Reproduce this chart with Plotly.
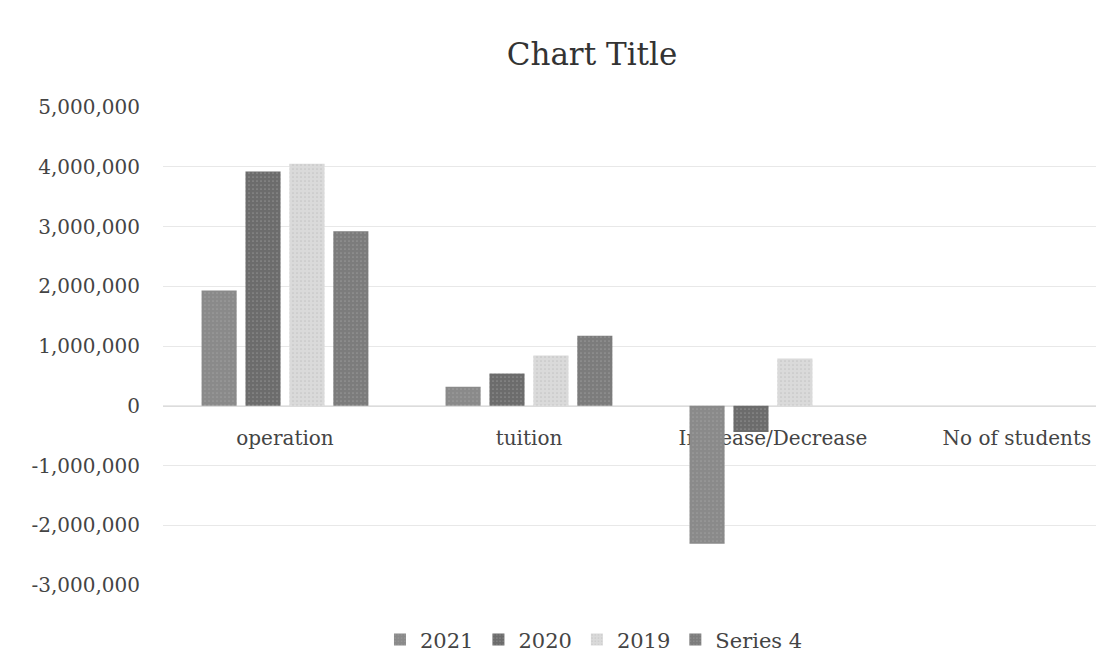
import plotly.graph_objects as go

categories = ["operation", "tuition", "Increase/Decrease", "No of students"]
series_names = ["2021", "2020", "2019", "Series 4"]
values_2021 = [1930000, 320000, -2310000, None]
values_2020 = [3920000, 540000, -440000, None]
values_2019 = [4050000, 840000, 790000, None]
values_s4 = [2920000, 1170000, None, None]
series_values = [values_2021, values_2020, values_2019, values_s4]
series_colors = ["#8a8a8a", "#6c6c6c", "#dadada", "#7c7c7c"]

tick_values = [5000000, 4000000, 3000000, 2000000, 1000000, 0,
               -1000000, -2000000, -3000000]
tick_labels = ["5,000,000", "4,000,000", "3,000,000", "2,000,000", "1,000,000", "0",
               "-1,000,000", "-2,000,000", "-3,000,000"]

FONT = "DejaVu Serif"
fig = go.Figure()
for name, vals, col in zip(series_names, series_values, series_colors):
    fig.add_trace(go.Bar(
        name=name, x=categories, y=vals,
        marker=dict(color=col, line=dict(width=0),
                    pattern=dict(shape=".", fgcolor="#b0b0b0", size=4, solidity=0.15)),
    ))

ymin, ymax = -3000000, 5000000
fig.update_layout(
    width=1104, height=653,
    paper_bgcolor="white", plot_bgcolor="white",
    margin=dict(l=155, r=8, t=99, b=76, autoexpand=False),
    barmode="group", bargap=0.28, bargroupgap=0.2,
    title=dict(text="Chart Title", x=0.529, xanchor="center", y=0.93, yanchor="middle",
               font=dict(family=FONT, size=31, color="#333333")),
    font=dict(family=FONT, size=20, color="#444444"),
    showlegend=True,
    legend=dict(orientation="h", x=0.458, xanchor="center", y=-0.115, yanchor="middle",
                font=dict(family=FONT, size=21, color="#444444"),
                itemwidth=30, traceorder="normal"),
    xaxis=dict(range=[-0.5, 3.357], anchor="free",
               position=(0 - ymin) / (ymax - ymin),
               showline=True, linecolor="#dcdcdc", linewidth=1,
               showgrid=False, ticks="", ticklabelstandoff=14,
               layer="below traces",
               tickfont=dict(family=FONT, size=20, color="#444444")),
    yaxis=dict(range=[ymin, ymax], tickvals=tick_values, ticktext=tick_labels,
               showgrid=True, gridcolor="#e8e8e8", gridwidth=1,
               zeroline=False, showline=False, ticks="",
               ticklabelstandoff=22,
               tickfont=dict(family=FONT, size=20, color="#444444")),
)
fig.write_html("out.html")
